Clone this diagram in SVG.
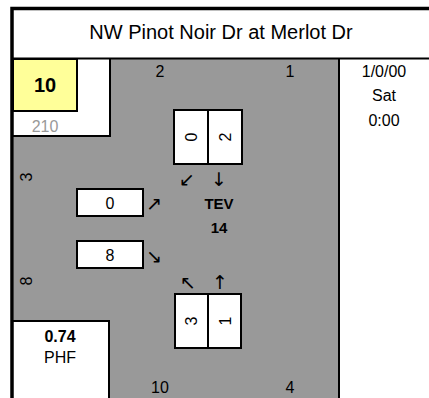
<svg xmlns="http://www.w3.org/2000/svg" width="429" height="398" viewBox="0 0 429 398">
<style>
text{font-family:"Liberation Sans",Arial,sans-serif;fill:#000}
.c{text-anchor:middle}
.n{font-size:16px}
.b{font-weight:bold}
.ln{stroke:#000;stroke-width:2;fill:none}
.box{fill:#fff;stroke:#000;stroke-width:2}
.ar{font-family:"DejaVu Sans",sans-serif;font-size:19px;text-anchor:middle;dominant-baseline:central}
.r{text-anchor:middle;dominant-baseline:central;font-size:16px}
</style>
<rect width="429" height="398" fill="#fff"/>
<g id="header">
<text class="c" x="221" y="39" font-size="20">NW Pinot Noir Dr at Merlot Dr</text>
</g>
<g id="intersection">
<rect x="110" y="59" width="229" height="339" fill="#999"/>
<rect x="14" y="136" width="97" height="186" fill="#999"/>
</g>
<g id="topleft">
<rect x="14" y="59" width="96" height="77" fill="#fff"/>
<path class="ln" d="M110 59V137M13 136H111"/>
<rect x="13" y="59" width="64" height="52" fill="#ffff99" stroke="#000" stroke-width="2"/>
<text class="c b" x="45" y="92" font-size="20">10</text>
<text class="c" x="45" y="132" font-size="16" style="fill:#999">210</text>
</g>
<g id="phf">
<rect x="14" y="321" width="95" height="77" fill="#fff"/>
<path class="ln" d="M13 321H109V398"/>
<text class="c b n" x="60" y="342">0.74</text>
<text class="c n" x="60" y="363">PHF</text>
</g>
<g id="date">
<text class="c n" x="384" y="77">1/0/00</text>
<text class="c n" x="384" y="101">Sat</text>
<text class="c n" x="384" y="126">0:00</text>
</g>
<g id="legs">
<text class="c n" x="160" y="77">2</text>
<text class="c n" x="290" y="77">1</text>
<text class="c n" x="160" y="393">10</text>
<text class="c n" x="290" y="393">4</text>
<text class="r" transform="rotate(-90 26 177)" x="26" y="177">3</text>
<text class="r" transform="rotate(-90 26 281)" x="26" y="281">8</text>
</g>
<g id="north">
<rect class="box" x="174" y="110" width="34" height="54"/>
<rect class="box" x="208" y="110" width="34" height="54"/>
<text class="r" transform="rotate(-90 191 137)" x="191" y="137">0</text>
<text class="r" transform="rotate(-90 225 137)" x="225" y="137">2</text>
</g>
<g id="south">
<rect class="box" x="175" y="294" width="33" height="54"/>
<rect class="box" x="208" y="294" width="33" height="54"/>
<text class="r" transform="rotate(-90 191 321)" x="191" y="321">3</text>
<text class="r" transform="rotate(-90 225 321)" x="225" y="321">1</text>
</g>
<g id="west">
<rect class="box" x="77" y="189" width="66" height="27"/>
<text class="r" x="110" y="203">0</text>
<rect class="box" x="77" y="241" width="66" height="27"/>
<text class="r" x="110" y="255">8</text>
</g>
<g id="tev">
<text class="c b" x="219" y="209" font-size="15">TEV</text>
<text class="c b" x="219" y="233" font-size="15">14</text>
</g>
<g id="connectors">
<text class="ar" x="187" y="179">↙</text>
<text class="ar" x="219" y="179">↓</text>
<text class="ar" x="154" y="203">↗</text>
<text class="ar" x="154" y="256">↘</text>
<text class="ar" x="188" y="282">↖</text>
<text class="ar" x="220" y="282">↑</text>
</g>
<g id="frame">
<path d="M12 398V8.5H429" fill="none" stroke="#000" stroke-width="3.5"/>
<path class="ln" d="M12 58.5H429M339 58V398"/>
</g>
</svg>
